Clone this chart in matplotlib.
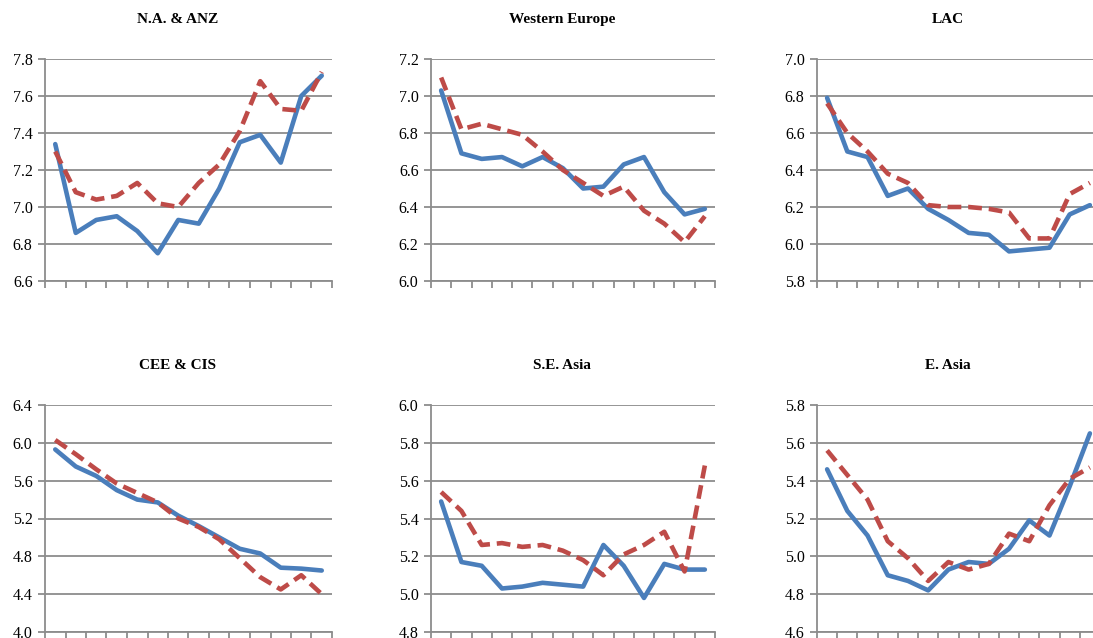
import numpy as np
import matplotlib.pyplot as plt

## chart data: 14 periods per region, solid = blue series, dashed = red series
regions = ['N.A. & ANZ', 'Western Europe', 'LAC', 'CEE & CIS', 'S.E. Asia', 'E. Asia']

na_anz_solid = [7.34, 6.86, 6.93, 6.95, 6.87, 6.75, 6.93, 6.91, 7.10, 7.35, 7.39, 7.24, 7.60, 7.71]
na_anz_dash = [7.30, 7.08, 7.04, 7.06, 7.13, 7.02, 7.00, 7.13, 7.23, 7.41, 7.68, 7.53, 7.52, 7.73]

weu_solid = [7.03, 6.69, 6.66, 6.67, 6.62, 6.67, 6.61, 6.50, 6.51, 6.63, 6.67, 6.48, 6.36, 6.39]
weu_dash = [7.10, 6.82, 6.85, 6.82, 6.79, 6.70, 6.60, 6.53, 6.46, 6.51, 6.38, 6.31, 6.21, 6.35]

lac_solid = [6.79, 6.50, 6.47, 6.26, 6.30, 6.19, 6.13, 6.06, 6.05, 5.96, 5.97, 5.98, 6.16, 6.21]
lac_dash = [6.76, 6.60, 6.50, 6.38, 6.33, 6.21, 6.20, 6.20, 6.19, 6.17, 6.03, 6.03, 6.27, 6.33]

cee_solid = [5.93, 5.75, 5.65, 5.50, 5.40, 5.37, 5.23, 5.12, 5.00, 4.88, 4.83, 4.68, 4.67, 4.65]
cee_dash = [6.03, 5.88, 5.72, 5.57, 5.47, 5.37, 5.20, 5.11, 4.98, 4.78, 4.58, 4.45, 4.60, 4.40]

sea_solid = [5.49, 5.17, 5.15, 5.03, 5.04, 5.06, 5.05, 5.04, 5.26, 5.15, 4.98, 5.16, 5.13, 5.13]
sea_dash = [5.54, 5.44, 5.26, 5.27, 5.25, 5.26, 5.23, 5.18, 5.10, 5.21, 5.26, 5.33, 5.12, 5.68]

ea_solid = [5.46, 5.24, 5.11, 4.90, 4.87, 4.82, 4.93, 4.97, 4.96, 5.04, 5.19, 5.11, 5.37, 5.65]
ea_dash = [5.56, 5.43, 5.30, 5.08, 4.99, 4.87, 4.97, 4.93, 4.96, 5.12, 5.08, 5.27, 5.41, 5.47]

# y axis (min, max, step) per panel
y_ranges = [(6.6, 7.8, 0.2), (6.0, 7.2, 0.2), (5.8, 7.0, 0.2),
            (4.0, 6.4, 0.4), (4.8, 6.0, 0.2), (4.6, 5.8, 0.2)]

series = [(na_anz_solid, na_anz_dash), (weu_solid, weu_dash), (lac_solid, lac_dash),
          (cee_solid, cee_dash), (sea_solid, sea_dash), (ea_solid, ea_dash)]

plt.rcParams['font.family'] = ['Liberation Serif', 'DejaVu Serif']

W, H = 1093, 638
fig = plt.figure(figsize=(W / 100, H / 100), dpi=100)

# panel boxes in pixels: left, top, right, bottom
boxes = [(45, 59, 332, 281), (431, 59, 715, 281), (817, 59, 1100, 281),
         (45, 405, 332, 632), (431, 405, 715, 632), (817, 405, 1100, 632)]

GRID = '#8c8c8c'
BLUE = '#4a7ebb'
RED = '#be4b48'

for i in range(6):
	l, t, r, b = boxes[i]
	ax = fig.add_axes([l / W, 1 - b / H, (r - l) / W, (b - t) / H])
	solid, dash = series[i]
	n = len(solid)
	x = np.arange(n) + 0.5
	ax.plot(x, solid, color=BLUE, lw=3.3, solid_capstyle='round', zorder=3)
	ax.plot(x, dash, color=RED, lw=3.3, dashes=(3.0, 1.5), zorder=3)
	lo, hi, step = y_ranges[i]
	ax.set_ylim(lo, hi)
	ax.set_xlim(0, n)
	yt = np.arange(lo, hi + step / 2, step)
	ax.set_yticks(yt)
	ax.set_yticklabels(['%.1f' % v for v in yt], fontsize=11.5)
	ax.set_xticks(np.arange(n + 1))
	ax.set_xticklabels([])
	ax.grid(axis='y', color=GRID, lw=1.3)
	ax.set_axisbelow(True)
	for s in ['top', 'right']:
		ax.spines[s].set_visible(False)
	for s in ['left', 'bottom']:
		ax.spines[s].set_color(GRID)
		ax.spines[s].set_linewidth(1.3)
	ax.tick_params(axis='both', color=GRID, width=1.3, length=5, direction='out', pad=4)
	# title sits slightly left of the axes centre, like the original
	cx = (l + r) / 2 - 11
	fig.text(cx / W, 1 - (t - 36) / H, regions[i], ha='center', va='baseline',
		fontsize=11, fontweight='bold')

fig.savefig('out.png', dpi=100)
